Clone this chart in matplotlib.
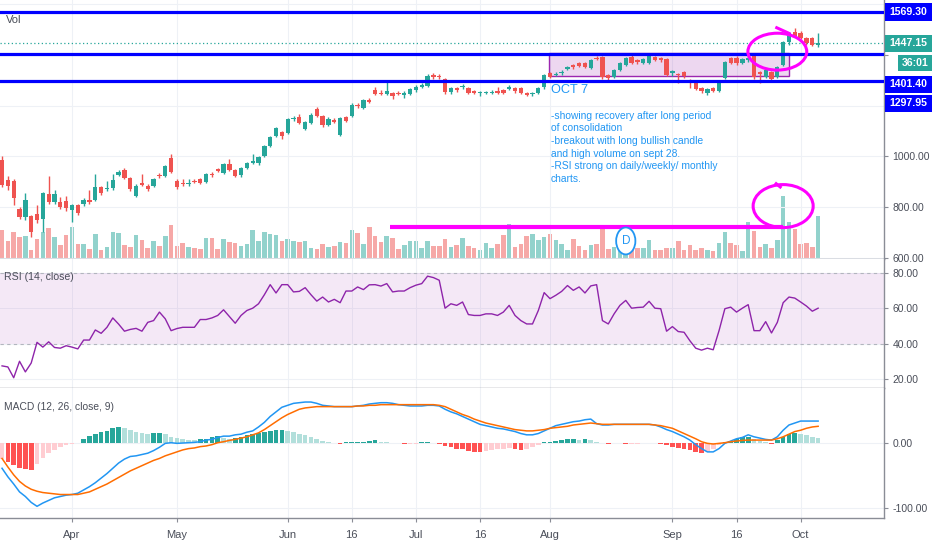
import matplotlib.pyplot as plt
from matplotlib.patches import Ellipse, Rectangle
import numpy as np

plt.rcParams['font.family'] = ['Liberation Sans', 'DejaVu Sans']

# daily candles, Mar 2020 -> Oct 7
opens = [
    986, 908, 904, 794, 762, 766, 774, 754, 853, 821,
    821, 825, 790, 809, 813, 829, 829, 880, 872, 876,
    927, 947, 916, 845, 896, 884, 884, 927, 923, 994,
    904, 896, 892, 904, 912, 900, 931, 951, 935, 971,
    947, 927, 955, 974, 974, 1002, 1041, 1081, 1096, 1092,
    1147, 1155, 1108, 1132, 1187, 1159, 1124, 1143, 1084, 1155,
    1159, 1202, 1191, 1222, 1261, 1250, 1246, 1250, 1250, 1242,
    1246, 1261, 1273, 1277, 1320, 1316, 1305, 1253, 1269, 1273,
    1269, 1257, 1250, 1250, 1250, 1257, 1261, 1265, 1269, 1269,
    1250, 1246, 1250, 1273, 1328, 1322, 1328, 1344, 1360, 1367,
    1367, 1348, 1387, 1391, 1320, 1312, 1340, 1360, 1391, 1379,
    1367, 1367, 1391, 1387, 1383, 1328, 1326, 1332, 1301, 1289,
    1269, 1250, 1269, 1257, 1309, 1387, 1387, 1367, 1379, 1399,
    1332, 1312, 1332, 1312, 1360, 1450, 1489, 1485, 1466, 1466,
    1440]
highs = [
    1000, 925, 910, 800, 857, 770, 809, 860, 925, 870,
    841, 845, 815, 815, 835, 868, 931, 884, 904, 931,
    947, 955, 920, 892, 931, 890, 916, 935, 967, 1010,
    912, 912, 912, 912, 916, 935, 939, 955, 975, 990,
    951, 958, 978, 1010, 1002, 1045, 1081, 1116, 1100, 1150,
    1160, 1165, 1140, 1170, 1195, 1163, 1155, 1150, 1155, 1160,
    1210, 1210, 1226, 1230, 1275, 1260, 1300, 1255, 1256, 1256,
    1270, 1280, 1290, 1325, 1330, 1325, 1310, 1273, 1275, 1285,
    1275, 1262, 1258, 1258, 1260, 1275, 1265, 1280, 1273, 1273,
    1254, 1254, 1273, 1325, 1332, 1332, 1340, 1356, 1365, 1371,
    1371, 1383, 1395, 1395, 1324, 1344, 1371, 1391, 1400, 1385,
    1387, 1402, 1395, 1392, 1387, 1340, 1330, 1336, 1305, 1293,
    1273, 1269, 1273, 1301, 1375, 1391, 1395, 1387, 1395, 1403,
    1336, 1344, 1336, 1356, 1454, 1490, 1505, 1495, 1470, 1470,
    1485]
lows = [
    880, 870, 809, 755, 750, 684, 740, 703, 815, 815,
    795, 785, 743, 770, 806, 815, 825, 850, 865, 870,
    923, 912, 865, 840, 884, 865, 880, 915, 918, 935,
    872, 884, 884, 896, 890, 896, 920, 938, 930, 943,
    918, 920, 950, 970, 965, 998, 1037, 1077, 1070, 1088,
    1140, 1128, 1104, 1128, 1155, 1116, 1118, 1130, 1080, 1135,
    1155, 1190, 1187, 1210, 1240, 1240, 1240, 1225, 1240, 1228,
    1240, 1255, 1270, 1273, 1305, 1305, 1245, 1245, 1255, 1265,
    1245, 1245, 1238, 1245, 1245, 1245, 1245, 1260, 1250, 1245,
    1236, 1236, 1245, 1265, 1308, 1316, 1322, 1340, 1345, 1350,
    1348, 1344, 1378, 1305, 1300, 1308, 1336, 1356, 1362, 1365,
    1362, 1362, 1375, 1373, 1315, 1318, 1290, 1310, 1270, 1260,
    1250, 1242, 1252, 1253, 1305, 1362, 1360, 1362, 1370, 1305,
    1289, 1308, 1300, 1308, 1356, 1440, 1468, 1460, 1440, 1434,
    1430]
closes = [
    888, 884, 837, 762, 829, 703, 750, 857, 821, 853,
    802, 798, 809, 778, 829, 821, 880, 857, 876, 908,
    939, 916, 872, 884, 888, 872, 912, 923, 963, 939,
    880, 892, 896, 900, 896, 931, 927, 943, 971, 947,
    923, 955, 974, 982, 998, 1041, 1077, 1112, 1081, 1147,
    1151, 1132, 1136, 1163, 1159, 1124, 1147, 1136, 1151, 1140,
    1202, 1198, 1222, 1214, 1246, 1246, 1257, 1238, 1246, 1250,
    1265, 1273, 1281, 1316, 1312, 1312, 1253, 1269, 1261, 1277,
    1250, 1250, 1253, 1253, 1254, 1250, 1250, 1273, 1257, 1250,
    1242, 1250, 1269, 1320, 1312, 1326, 1332, 1352, 1352, 1356,
    1352, 1379, 1383, 1312, 1309, 1340, 1367, 1387, 1367, 1371,
    1383, 1395, 1379, 1379, 1320, 1336, 1322, 1316, 1293, 1265,
    1257, 1265, 1257, 1297, 1371, 1367, 1367, 1383, 1387, 1312,
    1326, 1340, 1305, 1352, 1450, 1485, 1473, 1466, 1446, 1438,
    1447.15]
volume = [
    29, 18, 27, 22, 23, 9, 20, 27, 31, 22,
    14, 24, 32, 15, 15, 10, 25, 9, 12, 27,
    26, 14, 12, 24, 19, 11, 18, 13, 23, 34,
    13, 16, 12, 11, 10, 21, 21, 10, 20, 17,
    16, 13, 15, 29, 18, 27, 25, 24, 18, 20,
    18, 17, 18, 11, 10, 15, 12, 13, 17, 16,
    29, 26, 15, 32, 23, 17, 23, 21, 10, 14,
    18, 18, 11, 18, 13, 13, 20, 12, 14, 21,
    13, 11, 9, 16, 11, 15, 24, 35, 12, 15,
    23, 25, 19, 22, 25, 19, 15, 9, 20, 13,
    9, 14, 15, 34, 10, 12, 12, 10, 11, 11,
    11, 19, 9, 9, 11, 11, 18, 9, 14, 9,
    11, 9, 8, 16, 27, 16, 14, 8, 37, 28,
    12, 15, 11, 19, 63, 37, 30, 15, 16, 12,
    43]
rsi = [
    27.4, 26.8, 20.7, 30.0, 24.0, 29.0, 40.7, 38.0, 41.0, 37.8,
    37.4, 38.8, 38.0, 37.0, 42.0, 42.0, 47.7, 45.8, 49.2, 54.5,
    51.0, 47.0, 48.0, 48.6, 47.0, 52.0, 53.0, 57.8, 54.0, 47.3,
    48.5, 49.2, 49.2, 49.2, 53.6, 53.6, 54.5, 55.9, 59.1, 55.3,
    51.5, 55.9, 58.7, 60.0, 62.5, 67.6, 73.3, 68.6, 73.3, 73.3,
    69.2, 69.5, 71.6, 67.6, 64.0, 66.3, 63.5, 65.0, 63.1, 69.7,
    69.7, 72.0, 70.5, 73.2, 73.3, 72.5, 73.9, 69.2, 69.7, 69.7,
    71.6, 73.0, 73.9, 78.1, 77.3, 75.8, 60.0, 62.5, 61.6, 63.5,
    56.4, 55.9, 55.9, 56.8, 56.8, 55.9, 57.8, 61.6, 55.9, 53.0,
    51.1, 51.1, 58.7, 68.8, 65.4, 67.3, 69.5, 72.8, 70.1, 72.0,
    68.6, 72.6, 73.3, 53.0, 51.1, 56.8, 61.6, 64.4, 60.0, 60.4,
    60.6, 63.9, 60.0, 59.7, 47.0, 49.6, 46.8, 46.4, 41.6, 37.4,
    36.3, 37.4, 36.5, 47.3, 59.7, 60.6, 57.8, 60.0, 62.0, 47.3,
    47.3, 52.4, 46.0, 52.0, 63.1, 66.3, 65.7, 63.5, 61.2, 58.3,
    60.0]
macd = [
    -39, -52, -63, -75, -82, -91, -97, -92, -88, -84,
    -82, -80, -79, -77, -72, -67, -61, -54, -47, -39,
    -31, -25, -21, -20, -18, -16, -12, -7, -1, 0,
    -1, -0.5, 0, 0.5, 1.5, 4, 5, 8, 10, 10,
    12, 13, 16, 18, 24, 31, 40, 47, 54, 57,
    60, 61, 62, 62, 60, 57, 56, 55, 55, 55,
    55, 56, 57, 59, 60, 61, 61, 60, 58, 57,
    56, 56, 56, 57, 57, 56, 51, 47, 44, 40,
    36, 32, 28, 26, 24, 22, 21, 19, 17, 14,
    12, 12, 14, 18, 22, 26, 28, 30, 32, 33,
    35, 36, 29, 27, 27, 28, 28, 28, 28, 28,
    28, 28, 27, 24, 20, 17, 13, 9, 4, -3,
    -9, -14, -14, -9, -1, 2.5, 6, 8, 12, 9,
    7, 5, 4, 9, 19, 27, 30, 33, 33, 33,
    33]
signal = [
    -24, -37, -49, -59, -66, -71, -74, -76, -77, -78,
    -79, -79, -79, -79, -77, -75, -71, -67, -63, -58,
    -53, -48, -43, -39, -35, -31, -27, -24, -20, -17,
    -14, -11, -9, -8, -6, -5, -3, 0, 1.5, 3.5,
    5, 7, 9, 12, 15, 20, 26, 32, 38, 43,
    47, 51, 53, 54, 55, 55, 55, 55, 55, 55,
    55, 56, 56, 57, 57, 58, 58, 58, 58, 58,
    58, 58, 58, 58, 58, 57, 55, 51, 47, 43,
    40, 36, 33, 30, 28, 26, 24, 22, 20, 19,
    18, 18, 19, 20, 22, 23, 24, 25, 27, 28,
    29, 30, 29, 28, 28, 28, 28, 28, 28, 28,
    28, 28, 27, 26, 24, 22, 18, 14, 10, 6,
    1.5, -1, -2, -1, 0, 1.5, 2.5, 3.5, 4, 4,
    4, 4, 4, 6, 9, 13, 17, 19, 22, 24,
    25]
hist = [
    -25, -30, -34, -38, -40, -41, -32, -24, -16, -11,
    -6, -4, -2, -0.5, 5, 10, 13, 16, 18, 22,
    24, 22, 19, 17, 15, 14, 14.5, 15, 14, 9,
    7, 5, 4, 3.5, 5, 5.5, 8, 10, 7, 6,
    7, 9, 12, 13, 15, 17, 18, 19, 19.5, 18,
    16, 14, 12, 9, 6, 3, 1, 0, -2, 0.5,
    1, 1.5, 1.5, 2.5, 3.5, 1.5, 1, 0, -1, -2,
    -2, -2, 1, 1, 0, -2, -5, -7, -9, -10,
    -12, -14, -14.5, -12, -11, -10, -9, -8.5, -10, -10.5,
    -9, -6, -4, 0.5, 1.5, 3, 4, 5, 6, 4,
    6, 4, 1, -1, -2, -0.5, -1, -1.5, -1.5, -1.5,
    -1, -0.5, -1, -2, -4, -6, -8, -9, -11, -14,
    -15, -12, -9, -4, 0.5, 2.5, 5, 8, 9, 5,
    3, 0.5, -2, 4, 9, 13, 15, 14, 12, 9,
    7]

tick_pos = [12, 30, 49, 60, 71, 82, 94, 115, 126, 137]
tick_lbl = ["Apr", "May", "Jun", "16", "Jul", "16", "Aug", "Sep", "16", "Oct"]
levels = [1569.30, 1401.40, 1297.95]
last_price = 1447.15
countdown = "36:01"

note = ("-showing recovery after long period\nof consolidation\n"
        "-breakout with long bullish candle\nand high volume on sept 28.\n"
        "-RSI strong on daily/weekly/ monthly\ncharts.")

UP, DOWN = '#26a69a', '#ef5350'
BLUE, MAG, NOTE = '#0000ff', '#ff00ff', '#2196f3'
GRID, TXT, EDGE = '#eef1f6', '#4a4e59', '#8a8d96'

W, H = 932, 550
fig = plt.figure(figsize=(W / 100, H / 100), dpi=100)

def rect(top, bottom):
    return [0, 1 - bottom / H, 884 / W, (bottom - top) / H]

ax_vol = fig.add_axes(rect(0, 259))
ax = fig.add_axes(rect(0, 259), sharex=ax_vol)
ax.patch.set_visible(False)
ax_rsi = fig.add_axes(rect(259, 388), sharex=ax_vol)
ax_macd = fig.add_axes(rect(388, 518), sharex=ax_vol)

x = np.arange(len(closes))
o, h, l, c = map(np.array, (opens, highs, lows, closes))
cols = np.where(c >= o, UP, DOWN)

# volume overlay
ax_vol.bar(x, volume, width=0.78, color=cols, alpha=0.5, linewidth=0)
ax_vol.set_ylim(0, 259)
ax_vol.axis('off')

# candles
ax.vlines(x, l, h, colors=cols, lw=1, zorder=2)
ax.bar(x, np.maximum(np.abs(c - o), 3), bottom=np.minimum(o, c), width=0.74,
       color=cols, linewidth=0, zorder=3)
ax.set_ylim(597, 1615)
ax.add_patch(Rectangle((93.8, 1316), 41.2, 92, facecolor=(0.61, 0.15, 0.69, 0.18),
                       edgecolor='#9c27b0', lw=1, zorder=1.5))
for lv in levels:
    ax.axhline(lv, color=BLUE, lw=2.3, zorder=4)
ax.axhline(last_price, color=UP, lw=0.9, ls=(0, (1, 2)), zorder=1)

ax.plot([66.5, 134], [723, 723], color=MAG, lw=3, solid_capstyle='butt', zorder=5)
ax.add_patch(Ellipse((133, 1412), 10.1, 145, fill=False, ec=MAG, lw=2.2, zorder=6))
ax.plot([132.9, 135], [1506, 1484], color=MAG, lw=2.2, zorder=6)
ax.add_patch(Ellipse((134, 805), 10.3, 169, fill=False, ec=MAG, lw=2.2, zorder=6))
ax.plot([132.8, 133.5], [893, 880], color=MAG, lw=2.2, zorder=6)

ax.add_patch(Ellipse((107, 668), 3.3, 106, fc='white', ec=NOTE, lw=1.3, zorder=6))
ax.text(107, 668, "D", color=NOTE, fontsize=8.5, ha='center', va='center', zorder=7)

ax.text(94.1, 1262, "OCT 7", color=NOTE, fontsize=9.2, ha='left', va='center', zorder=7)
ax.text(94.1, 1180, note, color=NOTE, fontsize=7.4, ha='left', va='top',
        linespacing=1.33, zorder=7)
ax.text(0.007, 0.922, "Vol", transform=ax.transAxes, color=TXT, fontsize=8, va='center')

# scale labels above 1000 sit under the level boxes, so only their grid remains
pticks = [600, 800, 1000, 1200, 1400, 1600]
ax.set_yticks(pticks)
ax.set_yticklabels([f"{v:.2f}" if v <= 1000 else "" for v in pticks])

# RSI
ax_rsi.axhspan(40, 80, color='#9c27b0', alpha=0.1, lw=0)
ax_rsi.axhline(80, color='#b2b5be', lw=0.8, ls=(0, (3, 3)))
ax_rsi.axhline(40, color='#b2b5be', lw=0.8, ls=(0, (3, 3)))
ax_rsi.plot(x, rsi, color='#8e24aa', lw=1)
ax_rsi.set_ylim(14.9, 87.8)
rticks = [20, 40, 60, 80]
ax_rsi.set_yticks(rticks)
ax_rsi.set_yticklabels([f"{v:.2f}" for v in rticks])
ax_rsi.text(0.004, 0.86, "RSI (14, close)", transform=ax_rsi.transAxes, color=TXT,
            fontsize=7.6, va='center')

# MACD
hcols = []
for i, v in enumerate(hist):
    prev = hist[i - 1] if i else v
    if v >= 0:
        hcols.append('#26a69a' if v >= prev else '#b2dfdb')
    else:
        hcols.append('#ff5252' if v < prev else '#ffcdd2')
ax_macd.bar(x, hist, width=0.8, color=hcols, linewidth=0)
ax_macd.plot(x, macd, color='#2196f3', lw=1.1)
ax_macd.plot(x, signal, color='#ff6d00', lw=1.1)
ax_macd.set_ylim(-114.8, 83.4)
mticks = [-100, 0]
ax_macd.set_yticks(mticks)
ax_macd.set_yticklabels([f"{v:.2f}" for v in mticks])
ax_macd.text(0.004, 0.855, "MACD (12, 26, close, 9)", transform=ax_macd.transAxes,
             color=TXT, fontsize=7.4, va='center')

for a in (ax, ax_rsi, ax_macd):
    a.set_xlim(-0.35, 151.3)
    a.set_xticks(tick_pos)
    a.grid(True, color=GRID, lw=0.8)
    a.set_axisbelow(True)
    a.yaxis.tick_right()
    a.tick_params(axis='y', colors=EDGE, labelcolor=TXT, labelsize=7.5,
                  length=3, pad=3, right=True, left=False)
    for s in ('top', 'left'):
        a.spines[s].set_visible(False)
    for s in ('right', 'bottom'):
        a.spines[s].set_color(EDGE)
        a.spines[s].set_linewidth(1)
for a in (ax, ax_rsi):
    a.tick_params(axis='x', bottom=False, labelbottom=False)
ax_macd.set_xticklabels(tick_lbl)
ax_macd.tick_params(axis='x', colors=EDGE, labelcolor=TXT, labelsize=8, length=3, pad=6)

# price scale labels (stacked like the platform does)
boxes = [(f"{levels[0]:.2f}", 3, 21, 885, BLUE),
         (f"{last_price:.2f}", 35, 52, 885, UP),
         (countdown, 55, 71, 898, UP),
         (f"{levels[1]:.2f}", 76, 93, 885, BLUE),
         (f"{levels[2]:.2f}", 95, 112, 885, BLUE)]
for txt, top, bot, left, col in boxes:
    fig.add_artist(Rectangle((left / W, 1 - bot / H), (W - left) / W, (bot - top) / H,
                             transform=fig.transFigure, facecolor=col, edgecolor='none',
                             zorder=10))
    fig.text((left + W) / 2 / W, 1 - (top + bot) / 2 / H, txt, color='white',
             ha='center', va='center', fontsize=7.6, fontweight='bold', zorder=11)

fig.savefig("out.png", dpi=100)
